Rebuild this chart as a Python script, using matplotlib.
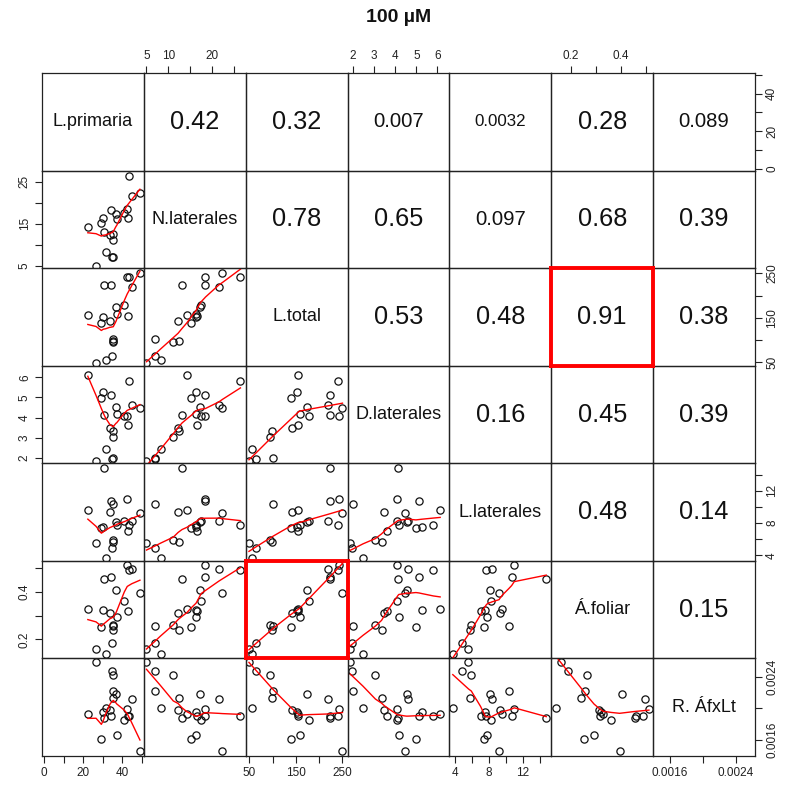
import numpy as np
import matplotlib
matplotlib.use("Agg")
import matplotlib.pyplot as plt

plt.rcParams['font.family'] = ['Liberation Sans', 'DejaVu Sans']

# ---- data (20 plants) ----
names = ['L.primaria', 'N.laterales', 'L.total', 'D.laterales',
         'L.laterales', 'Á.foliar', 'R. ÁfxLt']
l_primaria = [43.4, 49.0, 44.8, 34.2, 36.8, 42.5, 30.3, 29.3, 37.1, 43.0,
              22.4, 30.5, 33.7, 35.4, 31.5, 34.6, 35.1, 26.6, 35.2, 41.0]
n_laterales = [26.4, 22.3, 21.5, 18.3, 17.3, 18.4, 16.3, 15.2, 16.2, 16.4,
               14.2, 13.1, 12.2, 11.1, 8.2, 7.0, 7.0, 5.0, 12.4, 17.5]
l_total = [242, 251, 220, 225, 174, 243, 152, 139, 159, 154,
           156, 223, 142, 95, 56, 64, 102, 49, 98, 178]
d_laterales = [5.81, 4.46, 4.62, 5.13, 4.54, 4.10, 5.25, 4.98, 4.17, 3.62,
               6.13, 4.13, 3.49, 3.06, 2.47, 1.97, 2.00, 1.87, 3.35, 4.08]
l_laterales = [7.7, 9.2, 8.3, 10.7, 8.1, 11.0, 7.5, 7.4, 7.8, 7.0,
               9.6, 14.8, 9.3, 5.9, 3.7, 4.85, 10.4, 5.56, 5.7, 8.2]
a_foliar = [0.49, 0.395, 0.497, 0.462, 0.406, 0.513, 0.322, 0.253, 0.292, 0.318,
            0.329, 0.455, 0.312, 0.262, 0.137, 0.186, 0.257, 0.159, 0.238, 0.361]
r_afxlt = [0.0019, 0.00146, 0.00212, 0.0019, 0.00218, 0.00199, 0.00195, 0.00162,
           0.00167, 0.0019, 0.00193, 0.00188, 0.001975, 0.00242, 0.0020,
           0.002475, 0.00222, 0.00259, 0.00213, 0.00185]

# correlation labels shown in the upper panels (row, col) -> text
corr_labels = {
    (0, 1): '0.42', (0, 2): '0.32', (0, 3): '0.007', (0, 4): '0.0032', (0, 5): '0.28', (0, 6): '0.089',
    (1, 2): '0.78', (1, 3): '0.65', (1, 4): '0.097', (1, 5): '0.68', (1, 6): '0.39',
    (2, 3): '0.53', (2, 4): '0.48', (2, 5): '0.91', (2, 6): '0.38',
    (3, 4): '0.16', (3, 5): '0.45', (3, 6): '0.39',
    (4, 5): '0.48', (4, 6): '0.14',
    (5, 6): '0.15',
}

# axis ticks / labels
ticks = [[0, 10, 20, 30, 40, 50], [5, 10, 15, 20, 25], [50, 100, 150, 200, 250],
         [2, 3, 4, 5, 6], [4, 6, 8, 10, 12, 14], [0.2, 0.3, 0.4, 0.5],
         [0.0016, 0.0020, 0.0024]]
h_labels = [['0', '', '20', '', '40', ''], ['5', '10', '', '20', ''],
            ['50', '', '150', '', '250'], ['2', '3', '4', '5', '6'],
            ['4', '', '8', '', '12', ''], ['0.2', '', '0.4', ''],
            ['0.0016', '', '0.0024']]
v_labels = [['0', '', '20', '', '40', ''], ['5', '', '15', '', '25'],
            ['50', '', '150', '', '250'], ['2', '3', '4', '5', '6'],
            ['4', '', '8', '', '12', ''], ['0.2', '', '0.4', ''],
            ['0.0016', '', '0.0024']]
lims = [(-1.0, 51.0), (4.4, 27.6), (42, 262), (1.74, 6.57), (3.3, 15.4),
        (0.12, 0.53), (0.0014, 0.00263)]

highlight = [(2, 5), (5, 2)]

data = [np.array(v, float) for v in (l_primaria, n_laterales, l_total, d_laterales,
                                     l_laterales, a_foliar, r_afxlt)]


def lowess(x, y, f=2/3, iters=3):
    o = np.argsort(x, kind='mergesort')
    x = x[o]; y = y[o]
    n = len(x)
    r = int(np.ceil(f * n))
    delta = np.ones(n)
    yest = np.zeros(n)
    for it in range(iters + 1):
        for i in range(n):
            d = np.abs(x - x[i])
            h = np.sort(d)[r - 1]
            h = max(h, 1e-12)
            u = np.clip(d / h, 0, 1)
            w = (1 - u ** 3) ** 3 * delta
            sw = w.sum()
            if sw <= 0:
                yest[i] = y[i]
                continue
            xm = (w * x).sum() / sw
            ym = (w * y).sum() / sw
            sxx = (w * (x - xm) ** 2).sum()
            b = (w * (x - xm) * (y - ym)).sum() / sxx if sxx > 1e-18 else 0.0
            yest[i] = ym + b * (x[i] - xm)
        res = y - yest
        s = np.median(np.abs(res))
        if s <= 0:
            break
        u = np.clip(res / (6 * s), -1, 1)
        delta = (1 - u ** 2) ** 2
    return x, yest


W, H = 785, 790
fig = plt.figure(figsize=(W / 100, H / 100), dpi=100)
left, right, top, bottom = 42 / W, 755 / W, 1 - 73 / H, 1 - 756 / H
n = 7
pw = (right - left) / n
ph = (top - bottom) / n
edge = '#222222'

for i in range(n):
    for j in range(n):
        ax = fig.add_axes([left + j * pw, top - (i + 1) * ph, pw, ph])
        ax.set_xlim(lims[j])
        ax.set_ylim(lims[i])
        ax.set_xticks([])
        ax.set_yticks([])
        ax.patch.set_alpha(0)
        for sp in ax.spines.values():
            sp.set_color(edge)
            sp.set_linewidth(0.9)
        if i == j:
            ax.text(0.5, 0.5, names[i], transform=ax.transAxes, ha='center',
                    va='center', fontsize=13, color='#111111')
        elif i > j:
            ax.plot(data[j], data[i], linestyle='none', marker='o', ms=5.2,
                    mfc='none', mec='#111111', mew=0.9)
            sx, sy = lowess(data[j], data[i])
            ax.plot(sx, sy, color='red', lw=1.0)
        else:
            txt = corr_labels[(i, j)]
            ax.text(0.5, 0.5, txt, transform=ax.transAxes, ha='center',
                    va='center', fontsize=73 / len(txt), color='#111111')
        # outer axes like R pairs
        tkw = dict(length=5, width=0.8, color=edge, labelsize=8.5,
                   labelcolor='#222222', pad=3)
        if i == 0 and j % 2 == 1:
            ax.xaxis.tick_top()
            ax.set_xticks(ticks[j])
            ax.set_xticklabels(h_labels[j])
            ax.tick_params(axis='x', top=True, bottom=False, direction='out', **tkw)
        if i == n - 1 and j % 2 == 0:
            ax.set_xticks(ticks[j])
            ax.set_xticklabels(h_labels[j])
            ax.tick_params(axis='x', bottom=True, direction='out', **tkw)
        if j == 0 and i % 2 == 1:
            ax.set_yticks(ticks[i])
            ax.set_yticklabels(v_labels[i], rotation=90, va='center')
            ax.tick_params(axis='y', left=True, direction='out', **tkw)
        if j == n - 1 and i % 2 == 0:
            ax.yaxis.tick_right()
            ax.set_yticks(ticks[i])
            ax.set_yticklabels(v_labels[i], rotation=90, va='center')
            ax.tick_params(axis='y', right=True, left=False, direction='out', **tkw)
        if (i, j) in highlight:
            ax.set_zorder(5)
            for sp in ax.spines.values():
                sp.set_color('red')
                sp.set_linewidth(2.8)

fig.text((left + right) / 2, 1 - 18 / H, '100 µM', ha='center', va='center',
         fontsize=14, fontweight='bold', color='#111111')

fig.savefig('out.png', dpi=100)
